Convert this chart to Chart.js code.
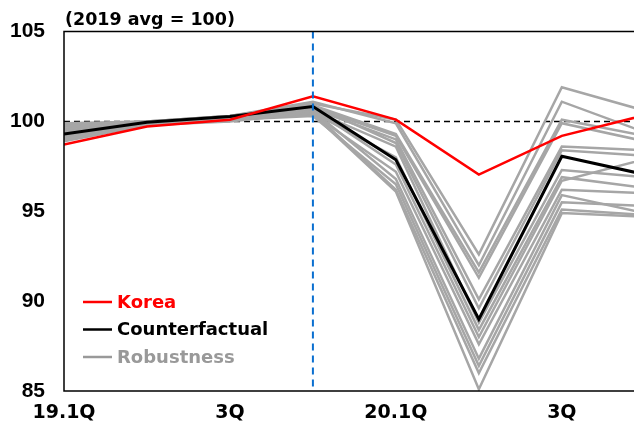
<!DOCTYPE html>
<html>
<head>
<meta charset="utf-8">
<script src="https://cdn.jsdelivr.net/npm/chart.js@4"></script>
<style>
  html, body { margin: 0; padding: 0; background: #fff; }
  #wrap { width: 634px; height: 429px; }
</style>
</head>
<body>
<div id="wrap"><canvas id="c" width="634" height="429"></canvas></div>
<script>
// Quarters 19.1Q .. 20.4Q
const quarters = ['19.1Q', '2Q', '3Q', '4Q', '20.1Q', '2Q', '3Q', '4Q'];
const shownTicks = [0, 2, 4, 6];

// GDP level index, 2019 average = 100
const korea = [98.72, 99.72, 100.1, 101.4, 100.1, 97.04, 99.2, 100.35];
const counterfactual = [99.3, 99.96, 100.28, 100.83, 97.87, 89.0, 98.06, 97.05];

const robustness01 = [99.9, 100.0, 100.3, 101.0, 100.1, 92.6, 101.9, 100.6];
const robustness02 = [99.8, 100.0, 100.3, 101.1, 99.9, 92.0, 101.1, 99.4];
const robustness03 = [99.7, 99.9, 100.2, 100.9, 99.3, 91.6, 100.1, 99.2];
const robustness04 = [99.6, 100.0, 100.3, 100.8, 99.2, 91.3, 99.9, 98.9];
const robustness05 = [99.5, 99.9, 100.2, 100.7, 99.0, 90.1, 98.6, 98.4];
const robustness06 = [99.4, 99.9, 100.3, 100.9, 98.8, 89.6, 98.4, 98.1];
const robustness07 = [99.4, 99.9, 100.2, 100.6, 98.6, 88.8, 97.3, 96.9];
const robustness08 = [99.3, 99.8, 100.1, 100.5, 98.0, 88.4, 96.9, 96.3];
const robustness09 = [99.2, 99.9, 100.2, 100.7, 97.6, 88.0, 96.7, 97.9];
const robustness10 = [99.2, 99.8, 100.1, 100.4, 97.2, 87.6, 96.2, 96.0];
const robustness11 = [99.1, 99.9, 100.2, 100.6, 96.8, 86.8, 95.9, 94.9];
const robustness12 = [99.0, 99.8, 100.1, 100.3, 96.5, 86.4, 95.5, 95.3];
const robustness13 = [99.0, 99.8, 100.0, 100.5, 96.2, 86.0, 95.1, 94.8];
const robustness14 = [98.9, 99.8, 100.1, 100.4, 96.1, 85.1, 94.9, 94.7];

const robustnessSets = [robustness01, robustness02, robustness03, robustness04, robustness05,
  robustness06, robustness07, robustness08, robustness09, robustness10, robustness11,
  robustness12, robustness13, robustness14];

const baseline = 100;      // 2019 average
const shockQuarter = 3;    // 19.4Q marker
const unitTitle = '(2019 avg = 100)';

const RED = '#ff0000', BLACK = '#000000', GRAY = '#a6a6a6';
const WIDE = '"DejaVu Sans", sans-serif';
const NARROW = '"Liberation Sans", Arial, sans-serif';

const toPoints = arr => arr.map((v, i) => ({ x: i, y: v }));

const datasets = [
  { label: 'Korea', data: toPoints(korea), borderColor: RED, borderWidth: 2.5, legendColor: RED, inLegend: true },
  { label: 'Counterfactual', data: toPoints(counterfactual), borderColor: BLACK, borderWidth: 3, legendColor: BLACK, inLegend: true },
  ...robustnessSets.map((s, k) => ({
    label: 'Robustness', data: toPoints(s), borderColor: GRAY, borderWidth: 2.5,
    legendColor: '#999999', inLegend: k === 0
  }))
].map(d => Object.assign(d, { pointRadius: 0, tension: 0, fill: false, clip: 0, borderJoinStyle: 'miter' }));

// Frame, reference lines, title and legend drawn on the canvas
const decorations = {
  id: 'decorations',
  beforeDatasetsDraw(chart) {
    const { ctx, chartArea: a, scales: { y } } = chart;
    ctx.save();
    // dashed baseline
    const yb = y.getPixelForValue(baseline);
    ctx.strokeStyle = '#000';
    ctx.lineWidth = 1.5;
    ctx.setLineDash([6, 4]);
    ctx.beginPath(); ctx.moveTo(a.left, yb); ctx.lineTo(a.right, yb); ctx.stroke();
    ctx.restore();
  },
  afterDatasetsDraw(chart) {
    const { ctx, chartArea: a, scales: { x } } = chart;
    ctx.save();
    // vertical marker
    const xs = x.getPixelForValue(shockQuarter);
    ctx.strokeStyle = '#0a6fd0';
    ctx.lineWidth = 2;
    ctx.setLineDash([7, 5]);
    ctx.beginPath(); ctx.moveTo(xs, a.top); ctx.lineTo(xs, a.bottom); ctx.stroke();
    ctx.setLineDash([]);
    // frame: top, left, bottom
    ctx.strokeStyle = '#000';
    ctx.lineWidth = 1.5;
    ctx.beginPath();
    ctx.moveTo(a.right, a.top); ctx.lineTo(a.left, a.top);
    ctx.lineTo(a.left, a.bottom); ctx.lineTo(a.right, a.bottom);
    ctx.stroke();
    // unit title
    ctx.fillStyle = '#000';
    ctx.font = 'bold 17.5px ' + WIDE;
    ctx.textAlign = 'left';
    ctx.textBaseline = 'alphabetic';
    ctx.fillText(unitTitle, a.left + 1, a.top - 7);
    // legend
    const items = chart.data.datasets.filter(d => d.inLegend);
    ctx.font = 'bold 18px ' + WIDE;
    ctx.textBaseline = 'middle';
    items.forEach((d, i) => {
      const yy = a.bottom - 89 + i * 27.5;
      ctx.strokeStyle = d.legendColor;
      ctx.lineWidth = 2.5;
      ctx.beginPath(); ctx.moveTo(a.left + 19, yy); ctx.lineTo(a.left + 48, yy); ctx.stroke();
      ctx.fillStyle = d.legendColor;
      ctx.fillText(d.label, a.left + 53, yy + 1);
    });
    ctx.restore();
  }
};

new Chart(document.getElementById('c'), {
  type: 'line',
  data: { datasets },
  options: {
    responsive: false,
    animation: false,
    layout: { padding: { top: 30, right: 0, bottom: 0, left: 0 } },
    plugins: { legend: { display: false }, tooltip: { enabled: false }, title: { display: false } },
    scales: {
      x: {
        type: 'linear',
        min: 0,
        max: 6.87,
        grid: { display: false, drawTicks: false },
        border: { display: false },
        afterBuildTicks: s => { s.ticks = shownTicks.map(v => ({ value: v })); },
        afterFit: s => { s.height = 38; },
        ticks: {
          padding: 11,
          maxRotation: 0,
          autoSkip: false,
          color: '#000',
          font: { family: WIDE, size: 19, weight: 'bold' },
          callback: v => quarters[v]
        }
      },
      y: {
        min: 85,
        max: 105,
        grid: { display: false, drawTicks: false },
        border: { display: false },
        afterFit: s => { s.width = 64; },
        ticks: {
          stepSize: 5,
          padding: 19,
          color: '#000',
          font: { family: NARROW, size: 21, weight: 'bold' }
        }
      }
    }
  },
  plugins: [decorations]
});
</script>
</body>
</html>
